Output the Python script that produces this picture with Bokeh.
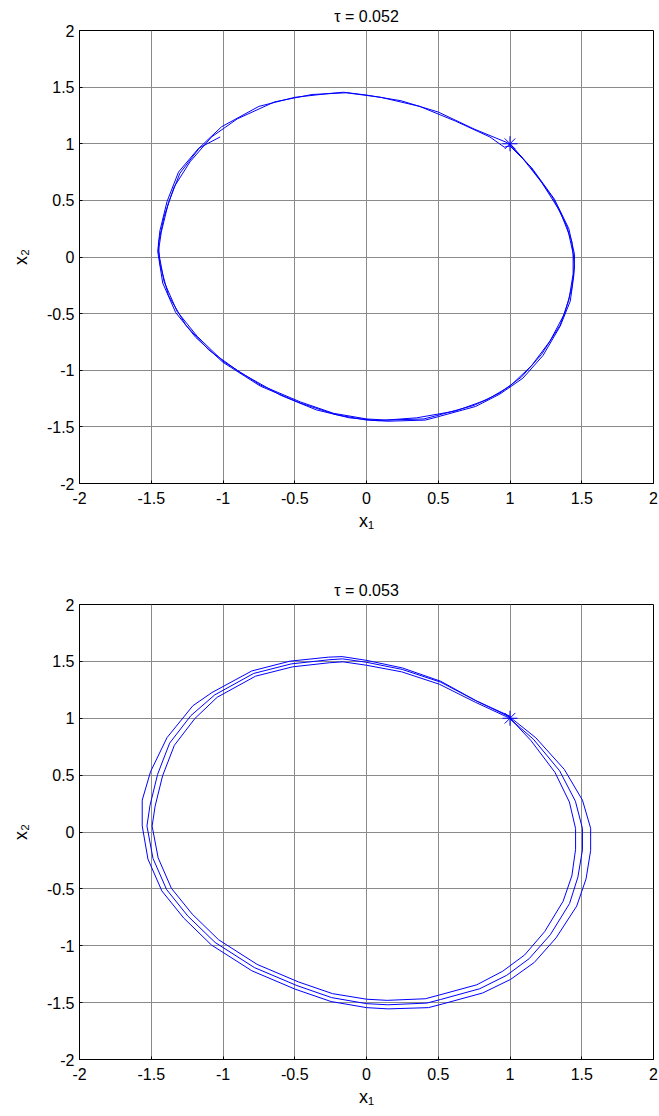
from bokeh.embed import file_html
from bokeh.layouts import column
from bokeh.models import FixedTicker, Range1d
from bokeh.plotting import figure
from bokeh.resources import INLINE

# Axis ticks shared by both panels
ticks = [-2, -1.5, -1, -0.5, 0, 0.5, 1, 1.5, 2]
tick_labels = ["-2", "-1.5", "-1", "-0.5", "0", "0.5", "1", "1.5", "2"]

# Phase portrait, tau = 0.052 (nearly closed orbit, clockwise from the start point)
x_052 = [
    1.00, 1.14, 1.30, 1.40, 1.44, 1.44, 1.41, 1.35, 1.22, 1.08, 0.93, 0.75, 0.49, 0.40,
    0.14, 0.00, -0.23, -0.46, -0.74, -1.00, -1.18, -1.32, -1.41, -1.45, -1.43, -1.38,
    -1.30, -1.16, -1.01, -0.75, -0.50, -0.25, -0.16, 0.00, 0.24, 0.50, 0.75, 0.98,
    1.07, 1.22, 1.35, 1.43, 1.45, 1.43, 1.38, 1.28, 1.15, 1.00, 0.84, 0.62, 0.35, 0.08,
    -0.12, -0.35, -0.60, -0.88, -1.10, -1.26, -1.38, -1.44, -1.45, -1.41, -1.34, -1.23,
    -1.08, -0.90, -0.64, -0.38, -0.14, 0.10, 0.37, 0.62, 0.86, 0.96,
    1.00, 1.15, 1.31, 1.41, 1.45, 1.445, 1.42, 1.35, 1.23, 1.09, 0.93, 0.76, 0.50, 0.41,
    0.15, 0.00, -0.22, -0.46, -0.74, -1.00, -1.19, -1.33, -1.42, -1.455, -1.44, -1.39,
    -1.31, -1.17, -1.02,
]
y_052 = [
    1.00, 0.80, 0.52, 0.26, 0.03, -0.15, -0.38, -0.60, -0.86, -1.06, -1.20, -1.31, -1.40, -1.43,
    -1.44, -1.43, -1.38, -1.28, -1.13, -0.92, -0.70, -0.48, -0.22, 0.05, 0.22, 0.48,
    0.74, 0.97, 1.15, 1.33, 1.41, 1.445, 1.455, 1.43, 1.38, 1.28, 1.13, 1.01,
    0.90, 0.66, 0.40, 0.14, -0.08, -0.28, -0.50, -0.74, -0.96, -1.14, -1.26, -1.36, -1.42, -1.445,
    -1.42, -1.35, -1.22, -1.02, -0.82, -0.60, -0.34, -0.06, 0.12, 0.36, 0.62, 0.84,
    1.06, 1.22, 1.37, 1.435, 1.45, 1.41, 1.33, 1.20, 1.06, 0.97,
    0.98, 0.79, 0.51, 0.25, 0.02, -0.16, -0.39, -0.61, -0.87, -1.07, -1.21, -1.32, -1.41, -1.44,
    -1.45, -1.44, -1.39, -1.29, -1.14, -0.93, -0.71, -0.49, -0.23, 0.05, 0.23, 0.49,
    0.75, 0.96, 1.06,
]

# Phase portrait, tau = 0.053 (slowly growing spiral)
x_053 = [
    # first turn
    1.00, 1.146, 1.313, 1.414, 1.457, 1.457, 1.431, 1.370, 1.242, 1.102, 0.949, 0.769,
    0.502, 0.410, 0.144, 0.000, -0.237, -0.474, -0.762, -1.030, -1.215, -1.360, -1.452,
    -1.494, -1.473, -1.421, -1.339, -1.195, -1.040, -0.773, -0.515, -0.258, -0.164, 0.000,
    0.245, 0.508, 0.758, 0.990,
    # second turn
    1.163, 1.346, 1.456, 1.505, 1.505, 1.473, 1.415, 1.281, 1.134, 0.977, 0.789, 0.515,
    0.421, 0.148, 0.000, -0.243, -0.485, -0.781, -1.055, -1.245, -1.393, -1.488, -1.530,
    -1.509, -1.456, -1.372, -1.224, -1.058, -0.786, -0.524, -0.262, -0.167, 0.000, 0.249,
    0.515, 0.765, 1.000,
    # third turn
    1.180, 1.378, 1.505, 1.562, 1.562, 1.530, 1.465, 1.321, 1.169, 1.004, 0.810, 0.529,
    0.432, 0.151, 0.000, -0.248, -0.497, -0.799, -1.080, -1.274, -1.426, -1.523, -1.563,
    -1.563, -1.505, -1.390, -1.210, -1.077, -0.799, -0.533, -0.266, -0.170, 0.000, 0.251,
    0.518, 0.765, 1.005,
]
y_053 = [
    # first turn
    1.00, 0.804, 0.525, 0.263, 0.030, -0.152, -0.386, -0.609, -0.875, -1.081, -1.224, -1.343,
    -1.435, -1.466, -1.480, -1.470, -1.421, -1.318, -1.164, -0.948, -0.721, -0.494, -0.227,
    0.052, 0.227, 0.494, 0.762, 0.999, 1.185, 1.370, 1.452, 1.488, 1.496, 1.466,
    1.408, 1.299, 1.141, 1.005,
    # second turn
    0.816, 0.538, 0.270, 0.031, -0.157, -0.397, -0.629, -0.903, -1.113, -1.260, -1.378, -1.473,
    -1.504, -1.519, -1.509, -1.456, -1.350, -1.192, -0.971, -0.739, -0.506, -0.232, 0.053,
    0.232, 0.506, 0.781, 1.023, 1.205, 1.394, 1.478, 1.514, 1.522, 1.492, 1.429,
    1.318, 1.153, 1.010,
    # third turn
    0.828, 0.551, 0.280, 0.033, -0.163, -0.412, -0.651, -0.931, -1.147, -1.296, -1.415, -1.512,
    -1.544, -1.555, -1.544, -1.490, -1.382, -1.220, -0.994, -0.756, -0.518, -0.238, 0.054,
    0.280, 0.530, 0.830, 1.110, 1.226, 1.416, 1.502, 1.537, 1.542, 1.509, 1.442,
    1.325, 1.153, 1.015,
]

# Initial condition marker
start_x = [1.0]
start_y = [1.0]

FONT = "Liberation Sans"
BLUE = "#0000ff"


def panel(xs, ys, title, top, bottom, frame_h):
    p = figure(
        frame_width=574, frame_height=frame_h,
        min_border_left=79, min_border_right=6,
        min_border_top=top, min_border_bottom=bottom,
        x_range=Range1d(-2, 2), y_range=Range1d(-2, 2),
        output_backend="svg", toolbar_location=None,
    )
    p.background_fill_color = "white"
    p.border_fill_color = "white"
    p.outline_line_color = "black"
    p.outline_line_width = 1

    p.title.text = title
    p.title.align = "center"
    p.title.text_font = FONT
    p.title.text_font_size = "16px"
    p.title.text_font_style = "normal"
    p.title.text_color = "black"
    p.title.standoff = 11

    for ax in (p.xaxis, p.yaxis):
        ax.ticker = FixedTicker(ticks=ticks)
        ax.major_label_overrides = dict(zip(ticks, tick_labels))
        ax.major_tick_in = 3
        ax.major_tick_out = 0
        ax.minor_tick_line_color = None
        ax.axis_line_color = "black"
        ax.major_tick_line_color = "black"
        ax.major_label_text_font = FONT
        ax.major_label_text_font_size = "16px"
        ax.major_label_text_color = "black"
        ax.axis_label_text_font = FONT
        ax.axis_label_text_font_size = "18px"
        ax.axis_label_text_font_style = "normal"
        ax.axis_label_text_color = "black"

    p.xaxis.axis_label = "x\u2081"
    p.yaxis.axis_label = "x\u2082"
    p.xaxis.major_label_standoff = 8
    p.yaxis.major_label_standoff = 5
    p.xaxis.axis_label_standoff = 4
    p.yaxis.axis_label_standoff = 13

    for g in (p.xgrid, p.ygrid):
        g.ticker = FixedTicker(ticks=ticks)
        g.grid_line_color = "#8a8a8a"
        g.grid_line_width = 1
        g.grid_line_alpha = 1.0

    p.line(xs, ys, line_color=BLUE, line_width=1)
    p.scatter(start_x, start_y, marker="asterisk", size=15, line_color=BLUE, line_width=1)
    return p


p1 = panel(x_052, y_052, "τ = 0.052", 30, 75, 453)
p2 = panel(x_053, y_053, "τ = 0.053", 46, 57, 455)

layout = column(p1, p2, spacing=0)
open("out.html", "w").write(file_html(layout, INLINE))
